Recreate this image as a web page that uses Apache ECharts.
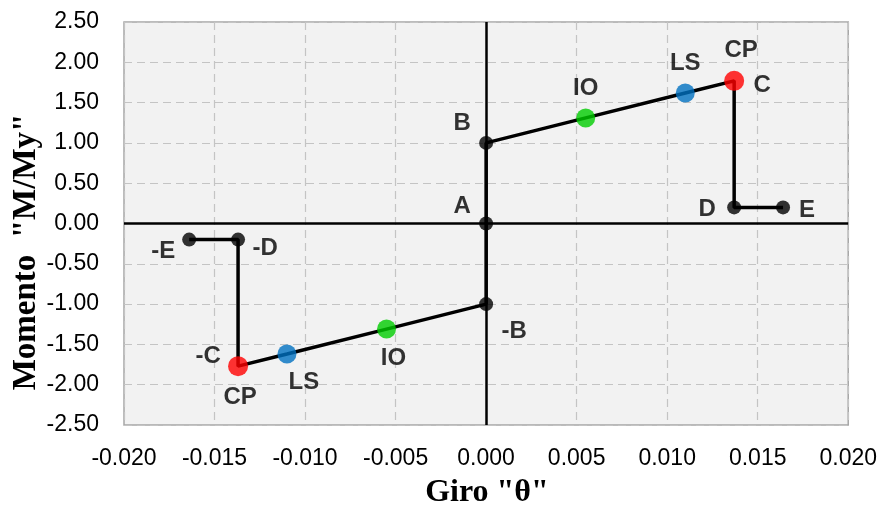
<!DOCTYPE html>
<html><head><meta charset="utf-8">
<script src="https://cdn.jsdelivr.net/npm/echarts@6/dist/echarts.min.js"></script>
<style>html,body{margin:0;padding:0;background:#fff}#c{width:880px;height:513px}</style>
</head><body><div id="c"></div>
<script>
// Path points (Giro θ, Momento M/My)
const pointNames = ['-E','-D','-C','LS-','IO-','-B','A','B','IO','LS','C','D','E'];
const theta = [-0.0164,-0.0137,-0.0137,-0.0110,-0.0055,0,0,0,0.0055,0.0110,0.0137,0.0137,0.0164];
const moment = [-0.20,-0.20,-1.77,-1.62,-1.31,-1.00,0,1.00,1.31,1.62,1.77,0.20,0.20];
// Performance points
const perfIO = [[-0.0055,-1.31],[0.0055,1.31]];
const perfLS = [[-0.0110,-1.62],[0.0110,1.62]];
const perfCP = [[-0.0137,-1.77],[0.0137,1.77]];
// Black node points (names from pointNames)
const nodeNames = ['-E','-D','-B','A','B','D','E'];
// Text labels: [text, point name]
const labelTexts = ['A','B','IO','LS','CP','C','D','E','-E','-D','-C','CP','LS','IO','-B'];
const labelAt    = ['A','B','IO','LS','C','C','D','E','-E','-D','-C','-C','LS-','IO-','-B'];
const xTicks = {min:-0.020,max:0.020,interval:0.005};
const yTicks = {min:-2.50,max:2.50,interval:0.50};

// style: label offsets in px
const labelOffsets = [[-24,-17],[-24,-20],[0,-30],[0,-30],[7,-30],[28,5],[-27,2],[24,3],[-26,12],[27,9],[-30,-10],[2,31],[17,28],[7,29],[28,27]];

const pt = n => { const i = pointNames.indexOf(n); return [theta[i], moment[i]]; };
const pathData = theta.map((t,i)=>[t,moment[i]]);
const tickFont = "'Liberation Sans',Arial,sans-serif";

const chart = echarts.init(document.getElementById('c'), null, {renderer:'canvas'});
chart.setOption({
  animation:false,
  backgroundColor:'#ffffff',
  grid:{left:124,right:31,top:22,bottom:88,show:true,backgroundColor:'#f2f2f2',borderColor:'#a6a6a6',borderWidth:1.5},
  xAxis:{type:'value',min:xTicks.min,max:xTicks.max,interval:xTicks.interval,
    axisLine:{show:false},axisTick:{show:false},
    axisLabel:{formatter:v=>v.toFixed(3),fontFamily:tickFont,fontSize:23,color:'#000',margin:22},
    splitLine:{show:true,lineStyle:{color:'#c4c4c4',type:[8,5],width:1.2}}},
  yAxis:{type:'value',min:yTicks.min,max:yTicks.max,interval:yTicks.interval,
    axisLine:{show:false},axisTick:{show:false},
    axisLabel:{formatter:v=>v.toFixed(2),fontFamily:tickFont,fontSize:23,color:'#000',margin:25},
    splitLine:{show:true,lineStyle:{color:'#c4c4c4',type:[8,5],width:1.2}}},
  graphic:[
    {type:'text',style:{text:'Giro "θ"',font:"bold 32px 'Liberation Serif','Times New Roman',serif",fill:'#000',textAlign:'center',textVerticalAlign:'middle'},x:487,y:493,z:10},
    {type:'text',style:{text:'Momento  "M/My"',font:"bold 33px 'Liberation Serif','Times New Roman',serif",fill:'#000',textAlign:'center',textVerticalAlign:'middle'},x:26,y:252,rotation:Math.PI/2,z:10}
  ],
  series:[
    {type:'line',data:pathData,symbol:'none',lineStyle:{color:'#000',width:3.5},z:3,
      markLine:{silent:true,symbol:'none',label:{show:false},lineStyle:{color:'#000',width:2.5,type:'solid'},
        data:[{xAxis:0},{yAxis:0}]}},
    {type:'scatter',data:nodeNames.map(pt),symbolSize:14,itemStyle:{color:'#000'},z:4},
    {type:'scatter',data:perfIO,symbolSize:19,itemStyle:{color:'#00cc00'},z:5},
    {type:'scatter',data:perfLS,symbolSize:19,itemStyle:{color:'#0070c0'},z:5},
    {type:'scatter',data:perfCP,symbolSize:20,itemStyle:{color:'#ff0000'},z:5},
    {type:'scatter',symbolSize:0,z:6,silent:true,
      data:labelTexts.map((t,i)=>({value:pt(labelAt[i]),
        label:{show:true,formatter:t,position:'inside',offset:labelOffsets[i],
          fontFamily:"'Liberation Sans',Arial,sans-serif",fontWeight:'bold',fontSize:24,color:'#000'}}))}
  ]
});
</script></body></html>
